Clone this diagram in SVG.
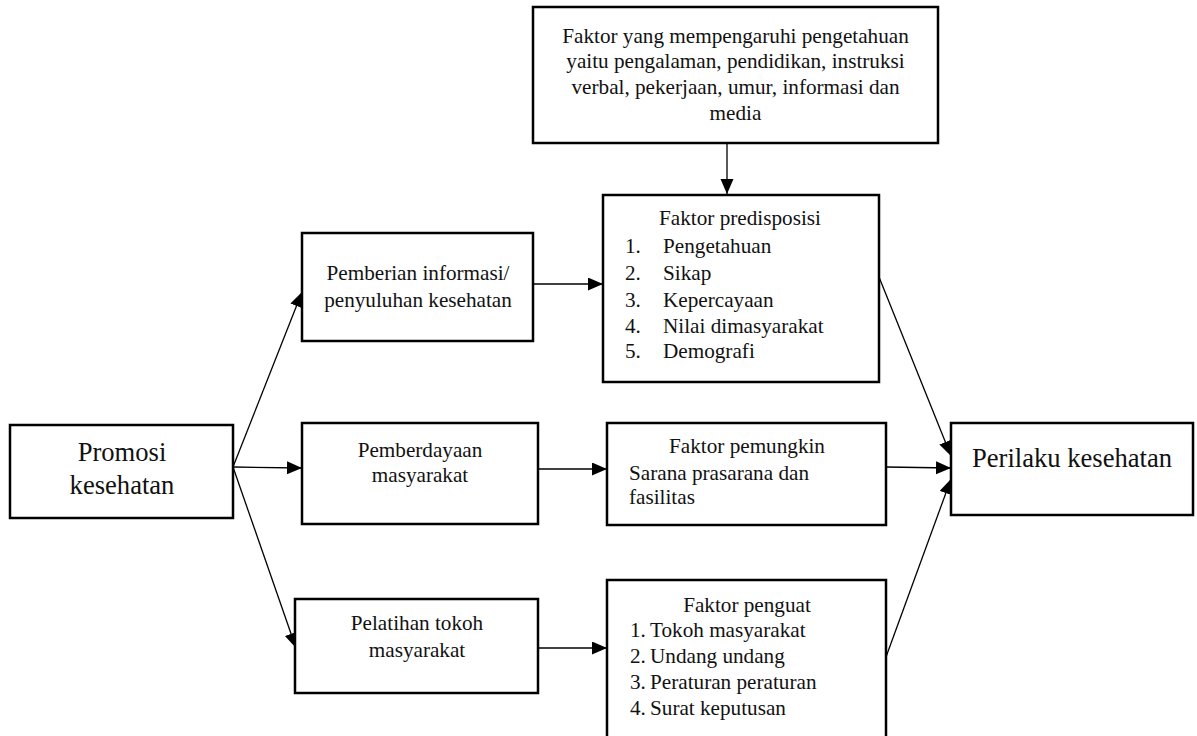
<svg xmlns="http://www.w3.org/2000/svg" width="1197" height="736" viewBox="0 0 1197 736">
<defs>
<style>
.box{fill:#fff;stroke:#000;stroke-width:2.5}
.t{font-family:"Liberation Serif","Times New Roman",serif;font-size:21.2px;fill:#111}
.c{text-anchor:middle}
.big{font-size:26.6px}
.ln{stroke:#000;stroke-width:1.3;fill:none;marker-end:url(#ah)}
</style>
<marker id="ah" markerUnits="userSpaceOnUse" markerWidth="16" markerHeight="14" refX="15" refY="6.5" orient="auto">
<path d="M0,0 L15,6.5 L0,13 z" fill="#000"/>
</marker>
</defs>
<rect width="1197" height="736" fill="#fff"/>
<g id="connectors">
<line class="ln" x1="727" y1="143" x2="727" y2="194"/>
<line class="ln" x1="233" y1="467" x2="302" y2="292"/>
<line class="ln" x1="233" y1="467" x2="302" y2="468"/>
<line class="ln" x1="233" y1="467" x2="296" y2="648"/>
<line class="ln" x1="533" y1="284" x2="603" y2="284"/>
<line class="ln" x1="538" y1="469" x2="607" y2="469"/>
<line class="ln" x1="538" y1="648" x2="607" y2="648"/>
<line class="ln" x1="879" y1="277" x2="951" y2="456"/>
<line class="ln" x1="886" y1="467" x2="951" y2="468"/>
<line class="ln" x1="886" y1="657" x2="951" y2="479"/>
</g>
<g id="faktor-pengetahuan">
<rect class="box" x="533" y="7" width="405" height="136"/>
<text class="t c" x="735.5" y="43">Faktor yang mempengaruhi pengetahuan</text>
<text class="t c" x="735.5" y="68">yaitu pengalaman, pendidikan, instruksi</text>
<text class="t c" x="735.5" y="94">verbal, pekerjaan, umur, informasi dan</text>
<text class="t c" x="735.5" y="120">media</text>
</g>
<g id="promosi">
<rect class="box" x="10" y="425" width="223" height="93"/>
<text class="t c big" x="122" y="461">Promosi</text>
<text class="t c big" x="122" y="494">kesehatan</text>
</g>
<g id="pemberian">
<rect class="box" x="302" y="233" width="231" height="108"/>
<text class="t c" x="418" y="280">Pemberian informasi/</text>
<text class="t c" x="418" y="307">penyuluhan kesehatan</text>
</g>
<g id="pemberdayaan">
<rect class="box" x="302" y="423" width="236" height="101"/>
<text class="t c" x="420" y="457">Pemberdayaan</text>
<text class="t c" x="420" y="482">masyarakat</text>
</g>
<g id="pelatihan">
<rect class="box" x="295" y="599" width="243" height="94"/>
<text class="t c" x="417" y="630">Pelatihan tokoh</text>
<text class="t c" x="417" y="657">masyarakat</text>
</g>
<g id="predisposisi">
<rect class="box" x="603" y="195" width="276" height="187"/>
<text class="t c" x="740" y="225">Faktor predisposisi</text>
<text class="t" x="625" y="253">1.</text><text class="t" x="663" y="253">Pengetahuan</text>
<text class="t" x="625" y="280">2.</text><text class="t" x="663" y="280">Sikap</text>
<text class="t" x="625" y="307">3.</text><text class="t" x="663" y="307">Kepercayaan</text>
<text class="t" x="625" y="333">4.</text><text class="t" x="663" y="333">Nilai dimasyarakat</text>
<text class="t" x="625" y="358">5.</text><text class="t" x="663" y="358">Demografi</text>
</g>
<g id="pemungkin">
<rect class="box" x="607" y="423" width="279" height="102"/>
<text class="t c" x="747" y="453">Faktor pemungkin</text>
<text class="t" x="629" y="480">Sarana prasarana dan</text>
<text class="t" x="629" y="504">fasilitas</text>
</g>
<g id="penguat">
<rect class="box" x="607" y="580" width="279" height="170"/>
<text class="t c" x="747" y="612">Faktor penguat</text>
<text class="t" x="630" y="637">1.</text><text class="t" x="650" y="637">Tokoh masyarakat</text>
<text class="t" x="630" y="663">2.</text><text class="t" x="650" y="663">Undang undang</text>
<text class="t" x="630" y="689">3.</text><text class="t" x="650" y="689">Peraturan peraturan</text>
<text class="t" x="630" y="715">4.</text><text class="t" x="650" y="715">Surat keputusan</text>
</g>
<g id="perilaku">
<rect class="box" x="951" y="423" width="242" height="92"/>
<text class="t c big" x="1072" y="467">Perilaku kesehatan</text>
</g>
</svg>
